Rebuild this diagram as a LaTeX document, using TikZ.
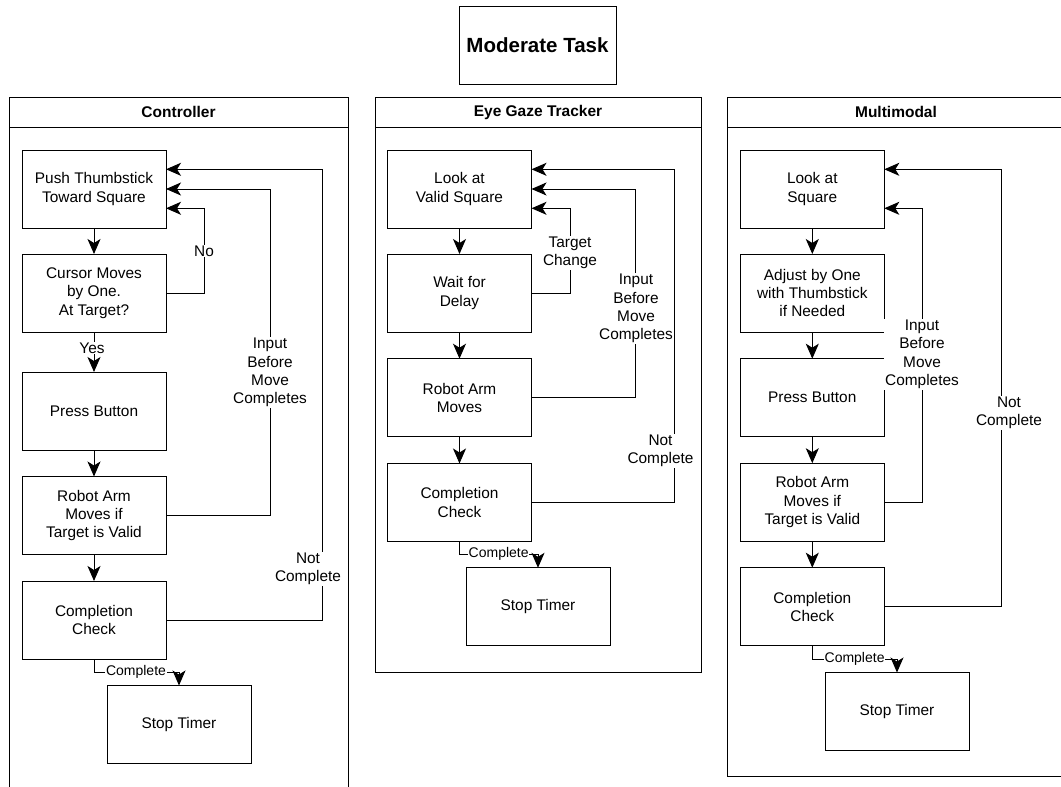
\documentclass[tikz,border=0pt]{standalone}
\usepackage{fontspec}
\setmainfont{Liberation Sans}
\usetikzlibrary{arrows.meta,calc}
\begin{document}
\begin{tikzpicture}[x=1pt,y=-1pt,
  every node/.style={font=\fontsize{15.4}{18.3}\selectfont},
  box/.style={draw,line width=1pt,minimum width=144pt,minimum height=78pt,inner sep=0pt,outer sep=0pt,align=center},
  lane/.style={draw,line width=1pt},
  lanetitle/.style={font=\fontsize{15.5}{18}\selectfont\bfseries},
  flow/.style={line width=1pt,arrows={-Stealth[length=15pt,width=13pt,inset=4pt]}},
  lbl/.style={fill=white,align=center,inner sep=1pt,font=\fontsize{15.4}{18.3}\selectfont},
  slbl/.style={fill=white,inner sep=0.6pt,font=\fontsize{14}{16}\selectfont},
]
\clip (0,0) rectangle (1061,787);
\fill[white] (0,0) rectangle (1061,787);

% title
\node[box,minimum width=157pt,font=\fontsize{20.5}{24}\selectfont\bfseries] (title) at (537.5,45) {Moderate Task};

% lanes
\draw[lane] (9,97) rectangle (348,800);
\draw[lane] (9,127) -- (348,127);
\node[lanetitle] (lt1) at (178.5,112) {Controller};

\draw[lane] (375,97) rectangle (701,672.3);
\draw[lane] (375,127) -- (701,127);
\node[lanetitle] (lt2) at (538,112) {Eye Gaze Tracker};

\draw[lane] (727,97) rectangle (1065,776.7);
\draw[lane] (727,127) -- (1065,127);
\node[lanetitle] (lt3) at (896,112) {Multimodal};

% Controller
\node[box] (c1) at (94,189) {Push Thumbstick\\Toward Square};
\node[box] (c2) at (94,293) {Cursor Moves\\by One.\\At Target?};
\node[box] (c3) at (94,411) {Press Button};
\node[box] (c4) at (94,515.5) {Robot Arm\\Moves if\\Target is Valid};
\node[box] (c5) at (94,620) {Completion\\Check};
\node[box] (cst) at (179,724.5) {Stop Timer};

\draw[flow] (c1.south) -- (c2.north);
\draw[flow] (c2.south) -- (c3.north);
\draw[flow] (c3.south) -- (c4.north);
\draw[flow] (c4.south) -- (c5.north);
\draw[flow] (c2.east) -- ++(38.7,0) |- ([yshift=-19.3pt]c1.east);
\draw[flow] (c4.east) -- ++(104,0) |- (c1.east);
\draw[flow] (c5.east) -- ++(156.3,0) |- ([yshift=19.7pt]c1.east);
\draw[flow] (c5.south) -- ++(0,13.3) -| (cst.north);
\node[lbl] (cyes) at (92,348) {Yes};
\node[lbl] (cno) at (204,251) {No};
\node[lbl] (cin) at (270,372.5) {Input\\Before\\Move\\Completes};
\node[lbl] (cnc) at (308,569) {Not\\Complete};
\node[slbl] (ccp) at (136,672.3) {Complete};

% Eye gaze
\node[box] (e1) at (459.5,189) {Look at\\Valid Square};
\node[box] (e2) at (459.5,293) {Wait for\\Delay};
\node[box] (e3) at (459.5,397.7) {Robot Arm\\Moves};
\node[box] (e4) at (459.5,502.5) {Completion\\Check};
\node[box] (est) at (538,606.8) {Stop Timer};

\draw[flow] (e1.south) -- (e2.north);
\draw[flow] (e2.south) -- (e3.north);
\draw[flow] (e3.south) -- (e4.north);
\draw[flow] (e2.east) -- ++(38.6,0) |- ([yshift=-19.3pt]e1.east);
\draw[flow] (e3.east) -- ++(104.2,0) |- (e1.east);
\draw[flow] (e4.east) -- ++(142.8,0) |- ([yshift=19.7pt]e1.east);
\draw[flow] (e4.south) -- ++(0,12.8) -| (est.north);
\node[lbl] (etc) at (570,252.7) {Target\\Change};
\node[lbl] (ein) at (636,308.5) {Input\\Before\\Move\\Completes};
\node[lbl] (enc) at (660.5,451) {Not\\Complete};
\node[slbl] (ecp) at (498.7,554.3) {Complete};

% Multimodal
\node[box] (m1) at (812.3,189) {Look at\\Square};
\node[box] (m2) at (812.3,293) {Adjust by One\\with Thumbstick\\if Needed};
\node[box] (m3) at (812.3,397.7) {Press Button};
\node[box] (m4) at (812.3,502.2) {Robot Arm\\Moves if\\Target is Valid};
\node[box] (m5) at (812.3,606.7) {Completion\\Check};
\node[box] (mst) at (897,711.5) {Stop Timer};

\draw[flow] (m1.south) -- (m2.north);
\draw[flow] (m2.south) -- (m3.north);
\draw[flow] (m3.south) -- (m4.north);
\draw[flow] (m4.south) -- (m5.north);
\draw[flow] (m4.east) -- ++(38,0) |- ([yshift=-19.3pt]m1.east);
\draw[flow] (m5.east) -- ++(117.4,0) |- ([yshift=19.7pt]m1.east);
\draw[flow] (m5.south) -- ++(0,13.6) -| (mst.north);
\node[lbl] (min) at (922,354.3) {Input\\Before\\Move\\Completes};
\node[lbl] (mnc) at (1009,413) {Not\\Complete};
\node[slbl] (mcp) at (854.6,659.3) {Complete};
\end{tikzpicture}
\end{document}
